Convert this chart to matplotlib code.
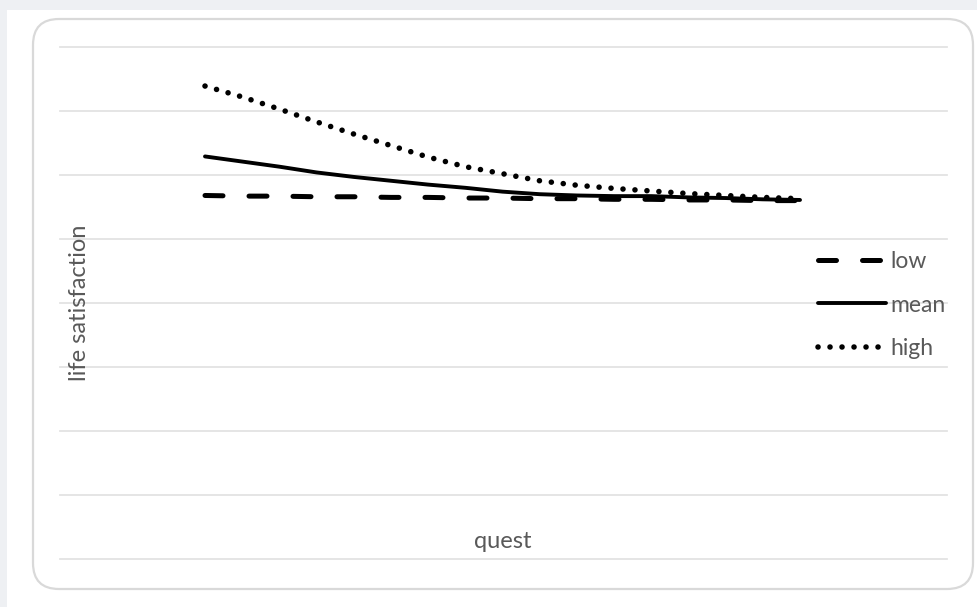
import numpy as np
import matplotlib.pyplot as plt
from matplotlib.patches import FancyBboxPatch, Rectangle

# Data
quest = [0, 0.5, 1, 1.5, 2, 2.5, 3, 3.5, 4, 4.5, 5, 5.5, 6, 6.5, 7, 7.5, 8]
low = [5.68, 5.67, 5.67, 5.66, 5.66, 5.65, 5.65, 5.64, 5.64,
       5.63, 5.63, 5.62, 5.62, 5.61, 5.61, 5.60, 5.60]
mean = [6.29, 6.21, 6.13, 6.04, 5.97, 5.91, 5.85, 5.80, 5.74,
        5.70, 5.68, 5.67, 5.67, 5.65, 5.64, 5.62, 5.61]
high = [7.39, 7.22, 7.03, 6.83, 6.64, 6.46, 6.28, 6.13, 6.02,
        5.91, 5.84, 5.79, 5.75, 5.71, 5.68, 5.65, 5.63]
labels = ['low', 'mean', 'high']
grid_y = np.arange(0, 9)

plt.rcParams['font.family'] = ['Lato', 'DejaVu Sans']
W, H = 978, 607
fig = plt.figure(figsize=(W/100, H/100), dpi=100, facecolor='#eef0f3')

# Background panel
bg = fig.add_axes([0, 0, 1, 1])
bg.set_xlim(0, W); bg.set_ylim(H, 0)
bg.axis('off')
bg.add_patch(Rectangle((7, 10), W, H, facecolor='white', edgecolor='none'))
bg.add_patch(FancyBboxPatch((33, 19), 940, 570, boxstyle='round,pad=0,rounding_size=26',
                            facecolor='white', edgecolor='#d9d9d9', linewidth=1.6))

# Plot area
ax = fig.add_axes([60/W, (H-559)/H, 887/W, 512/H])
ax.set_facecolor('none')
ax.set_xlim((60-205)/74.375, (947-205)/74.375)
ax.set_ylim(0, 8)
for y in grid_y:
    ax.axhline(y, color='#e3e3e3', linewidth=1.3, zorder=0, clip_on=False)
for s in ax.spines.values():
    s.set_visible(False)
ax.set_xticks([]); ax.set_yticks([])

ax.plot(quest, low, color='black', linewidth=3.6, linestyle=(0, (3.6, 5.2)),
        dash_capstyle='round', label=labels[0])
ax.plot(quest, mean, color='black', linewidth=2.8, solid_capstyle='round',
        solid_joinstyle='round', label=labels[1])
ax.plot(quest, high, color='black', linewidth=4.0, linestyle=(0, (0.01, 2.15)),
        dash_capstyle='round', label=labels[2])

leg = ax.legend(loc='center left', bbox_to_anchor=(818/W, (H-305)/H),
                bbox_transform=fig.transFigure, frameon=False, fontsize=16.5,
                handlelength=2.95, handletextpad=0.2, labelspacing=0.97,
                borderpad=0, borderaxespad=0, labelcolor='#595959')

fig.text(80/W, 1-303/H, 'life satisfaction', rotation=90, ha='center', va='center',
         fontsize=17, color='#595959')
fig.text(503/W, 1-541/H, 'quest', ha='center', va='center', fontsize=17, color='#595959')

fig.savefig('out.png', dpi=100, facecolor=fig.get_facecolor())
